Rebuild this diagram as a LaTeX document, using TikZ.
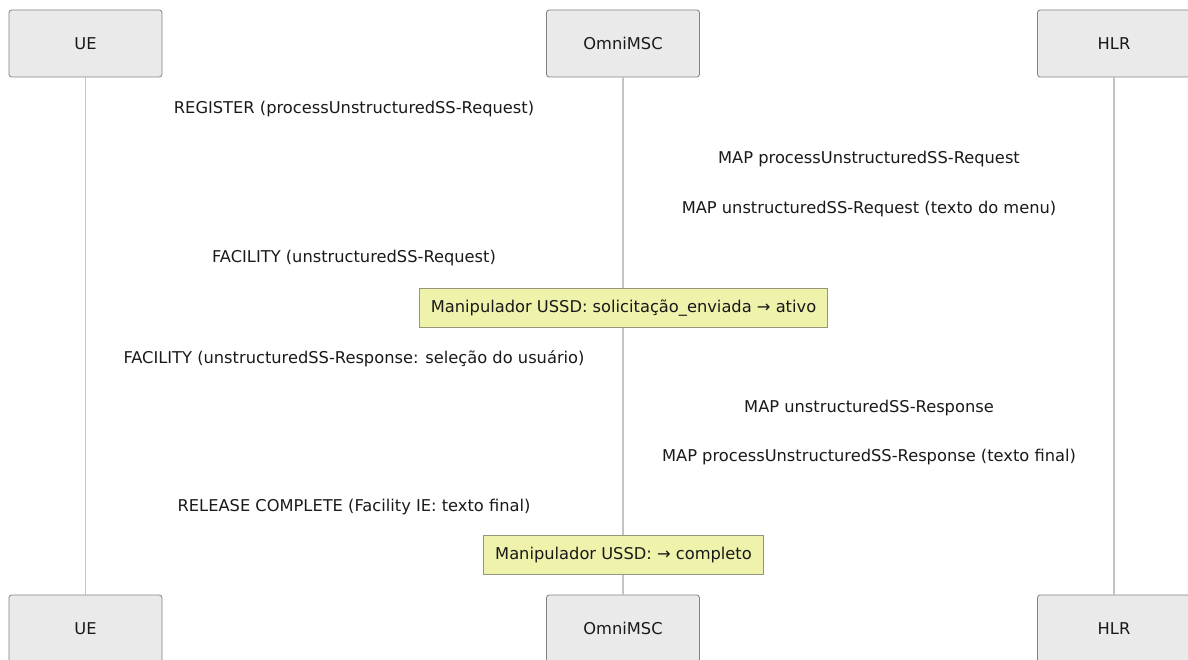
\documentclass[tikz,border=0pt]{standalone}
\usepackage{fontspec}
\setmainfont{DejaVu Sans}
\definecolor{actfill}{RGB}{234,234,234}
\definecolor{actline}{RGB}{130,130,130}
\definecolor{notefill}{RGB}{238,242,170}
\definecolor{noteline}{RGB}{150,150,120}
\definecolor{lifeline}{RGB}{195,195,195}
\begin{document}
\begin{tikzpicture}[
  x=0.75pt, y=-0.75pt,
  every node/.style={font=\fontsize{12.2}{14}\selectfont, text=black!90},
  actor/.style={rectangle, rounded corners=2pt, draw=actline, fill=actfill,
                line width=0.6pt, minimum width=114.75pt, minimum height=50.25pt},
  note/.style={rectangle, draw=noteline, fill=notefill, line width=0.6pt,
               inner xsep=8.5pt, minimum height=29.5pt},
  msg/.style={inner sep=0pt},
  life/.style={lifeline, line width=1pt}
]
  \useasboundingbox (0,0) rectangle (1188,660);

  % participants
  \node[actor] (ueT)  at (85.5, 43.5)  {UE};
  \node[actor] (mscT) at (623, 43.5)   {OmniMSC};
  \node[actor] (hlrT) at (1114, 43.5)  {HLR};
  \node[actor] (ueB)  at (85.5, 628.5) {UE};
  \node[actor] (mscB) at (623, 628.5)  {OmniMSC};
  \node[actor] (hlrB) at (1114, 628.5) {HLR};

  % lifelines
  \draw[life] (ueT)  -- (ueB);
  \draw[life] (mscT) -- (mscB);
  \draw[life] (hlrT) -- (hlrB);

  % messages
  \node[msg] (m1) at (354, 109.5) {REGISTER (processUnstructuredSS-Request)};
  \node[msg] (m2) at (869, 159.5) {MAP processUnstructuredSS-Request};
  \node[msg] (m3) at (869, 209.5) {MAP unstructuredSS-Request (texto do menu)};
  \node[msg] (m4) at (354, 258.5) {FACILITY (unstructuredSS-Request)};
  \node[note] (n1) at (623.5, 308) {Manipulador USSD: solicitação\_enviada → ativo};
  \node[msg] (m5) at (354, 358.5) {FACILITY (unstructuredSS-Response: seleção do usuário)};
  \node[msg] (m6) at (869, 408.5) {MAP unstructuredSS-Response};
  \node[msg] (m7) at (869, 457.5) {MAP processUnstructuredSS-Response (texto final)};
  \node[msg] (m8) at (354, 507.5) {RELEASE COMPLETE (Facility IE: texto final)};
  \node[note] (n2) at (623.5, 555) {Manipulador USSD: → completo};
\end{tikzpicture}
\end{document}
